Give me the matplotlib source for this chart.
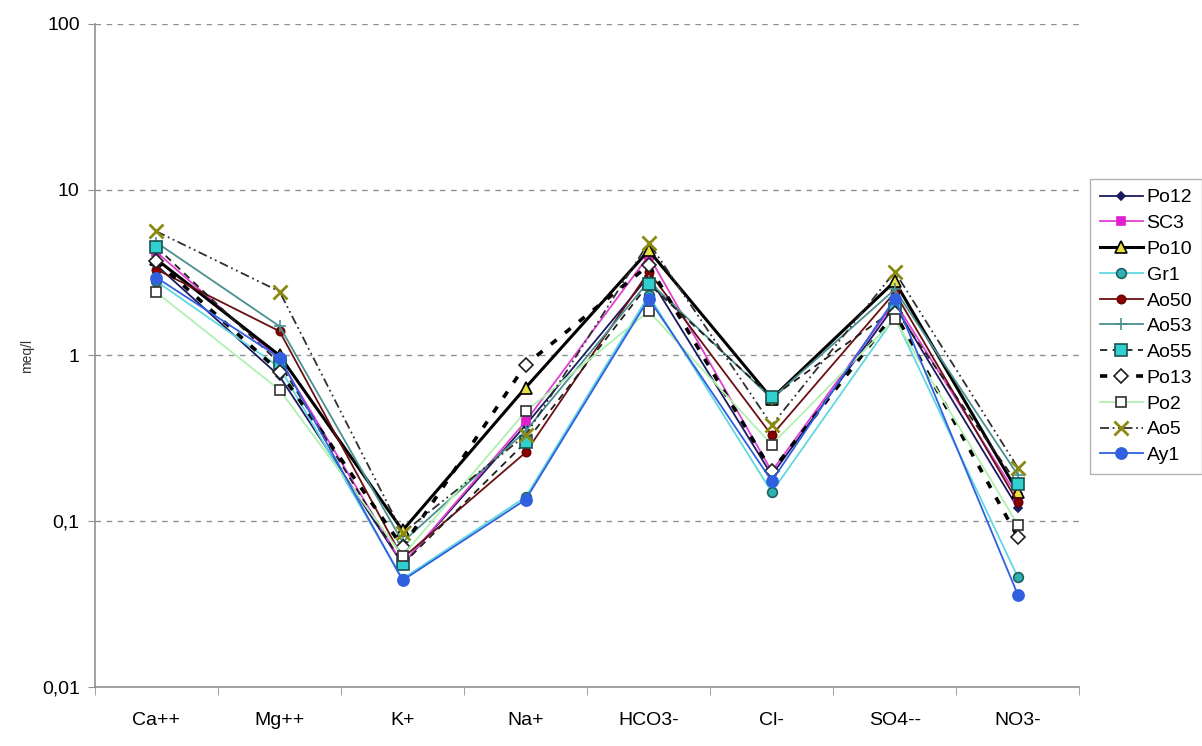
import numpy as np
import matplotlib
matplotlib.use('Agg')
import matplotlib.pyplot as plt

plt.rcParams['font.family'] = ['Liberation Sans Narrow', 'Liberation Sans', 'DejaVu Sans']

# ions on the x axis
ions = ['Ca++', 'Mg++', 'K+', 'Na+', 'HCO3-', 'Cl-', 'SO4--', 'NO3-']

# concentrations in meq/l
Po12 = [3.5, 0.75, 0.055, 0.38, 3.0, 0.19, 2.0, 0.12]
SC3  = [4.2, 0.95, 0.055, 0.40, 4.0, 0.20, 2.1, 0.14]
Po10 = [3.8, 1.0, 0.088, 0.64, 4.3, 0.55, 2.8, 0.15]
Gr1  = [2.8, 0.85, 0.045, 0.14, 2.3, 0.15, 1.7, 0.046]
Ao50 = [3.3, 1.4, 0.060, 0.26, 3.2, 0.33, 2.4, 0.13]
Ao53 = [4.8, 1.5, 0.075, 0.35, 2.8, 0.55, 2.5, 0.19]
Ao55 = [4.5, 0.9, 0.055, 0.30, 2.7, 0.56, 1.9, 0.167]
Po13 = [3.7, 0.8, 0.070, 0.88, 3.5, 0.20, 1.8, 0.08]
Po2  = [2.4, 0.62, 0.062, 0.46, 1.85, 0.29, 1.65, 0.095]
Ao5  = [5.6, 2.43, 0.085, 0.33, 4.8, 0.38, 3.2, 0.21]
Ay1  = [2.95, 0.97, 0.044, 0.135, 2.2, 0.175, 2.2, 0.036]

names = ['Po12', 'SC3', 'Po10', 'Gr1', 'Ao50', 'Ao53', 'Ao55', 'Po13', 'Po2', 'Ao5', 'Ay1']
series = [Po12, SC3, Po10, Gr1, Ao50, Ao53, Ao55, Po13, Po2, Ao5, Ay1]

# line style per series: color, linestyle, width, marker, marker face, marker edge, marker size
styles = [
    dict(color='#1a1a5e', ls='-', lw=1.3, marker='D', mfc='#1a1a5e', mec='#1a1a5e', ms=4),
    dict(color='#e040d0', ls='-', lw=1.3, marker='s', mfc='#e020d0', mec='#e020d0', ms=6),
    dict(color='black', ls='-', lw=2.2, marker='^', mfc='#e8e040', mec='black', ms=8),
    dict(color='#60d8e0', ls='-', lw=1.3, marker='o', mfc='#30b0b0', mec='#206060', ms=7),
    dict(color='#6b1010', ls='-', lw=1.3, marker='o', mfc='#8b0000', mec='#6b0000', ms=6),
    dict(color='#4a9090', ls='-', lw=1.3, marker='+', mfc='#4a9090', mec='#4a9090', ms=8),
    dict(color='#202020', ls=(0, (4, 3)), lw=1.3, marker='s', mfc='#30d0d0', mec='#205050', ms=8),
    dict(color='black', ls=(0, (2, 3)), lw=2.6, marker='D', mfc='white', mec='#202020', ms=7),
    dict(color='#b0f0b0', ls='-', lw=1.3, marker='s', mfc='white', mec='#303030', ms=7),
    dict(color='#303030', ls=(0, (5, 2, 1, 2, 1, 2)), lw=1.3, marker='x', mfc='#a0a000', mec='#8a8a10', ms=10, mew=2),
    dict(color='#3060e0', ls='-', lw=1.3, marker='o', mfc='#3060e0', mec='#3060e0', ms=8),
]

fig = plt.figure(figsize=(12.02, 7.46), dpi=100)
ax = fig.add_axes([0.079, 0.079, 0.819, 0.889])

x = np.arange(len(ions))
for name, vals, st in zip(names, series, styles):
    mew = st.pop('mew', 1.2)
    ax.plot(x, vals, label=name, color=st['color'], linestyle=st['ls'], linewidth=st['lw'],
            marker=st['marker'], markerfacecolor=st['mfc'], markeredgecolor=st['mec'],
            markersize=st['ms'], markeredgewidth=mew)

ax.set_yscale('log')
ax.set_ylim(0.01, 100)
ax.set_xlim(-0.5, len(ions) - 0.5)

ax.set_yticks([0.01, 0.1, 1, 10, 100])
ax.set_yticklabels(['0,01', '0,1', '1', '10', '100'], fontsize=14)
ax.yaxis.set_minor_locator(matplotlib.ticker.NullLocator())
ax.set_xticks(x)
ax.set_xticklabels(ions, fontsize=14)
ax.set_xticks(np.arange(-0.5, len(ions)), minor=True)
ax.tick_params(axis='x', which='major', length=0, pad=18)
ax.tick_params(axis='x', which='minor', length=6, color='#909090', direction='out')
ax.tick_params(axis='y', length=5, color='#909090', direction='out', pad=6)

for v in [0.1, 1, 10, 100]:
    ax.axhline(v, color='#909090', linestyle=(0, (4, 4)), linewidth=1, zorder=0)

for s in ['top', 'right']:
    ax.spines[s].set_visible(False)
for s in ['left', 'bottom']:
    ax.spines[s].set_color('#909090')
    ax.spines[s].set_linewidth(1.2)

ax.set_ylabel('meq/l', fontsize=10, color='#333333')
ax.yaxis.set_label_coords(-0.062, 0.5)

leg = ax.legend(loc='upper left', bbox_to_anchor=(1.011, 0.766), fontsize=14,
                frameon=True, fancybox=False, handlelength=2.2, handletextpad=0.2,
                labelspacing=0.42, borderpad=0.5, borderaxespad=0)
leg.get_frame().set_edgecolor('#a0a0a0')
leg.get_frame().set_linewidth(1)

fig.savefig('out.png', dpi=100)
